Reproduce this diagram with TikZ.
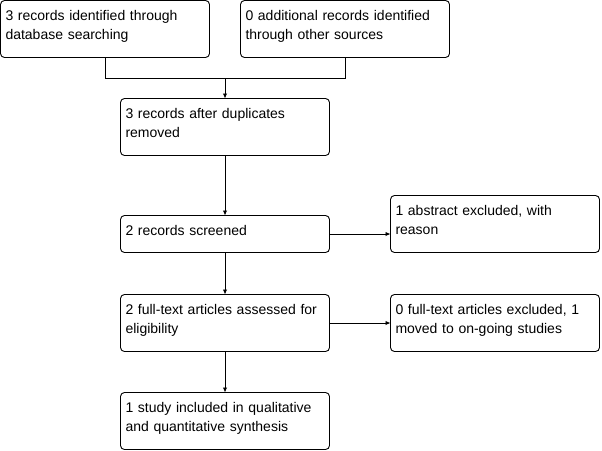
\documentclass[tikz,border=0pt]{standalone}
\usepackage{fontspec}
\setmainfont{Liberation Sans}
\usetikzlibrary{arrows.meta, positioning, calc}

\begin{document}
\begin{tikzpicture}[
  >={Latex[length=5pt,width=4.5pt]},
  box/.style={
    draw=black,
    line width=0.9pt,
    outer sep=0pt,
    rounded corners=4pt,
    align=left,
    text width=199pt,
    inner xsep=5pt,
    inner ysep=0pt,
    text height=20pt,
    text depth=37pt,
    font=\fontsize{14}{18.5}\selectfont
  },
  short/.style={text depth=17pt},
  link/.style={->, line width=0.9pt},
  node distance=41pt and 61pt
]
\useasboundingbox (0,0) rectangle (602pt,-450pt);

% Identification
\node[box, anchor=north west] (ident) at (0.5pt,-0.5pt)
  {3 records identified through\\database searching};
\node[box, right=31pt of ident] (other)
  {0 additional records identified\\through other sources};
\coordinate[below=21pt of $(ident.south)!0.5!(other.south)$] (join);

% Tri
\node[box, below=20pt of join] (dedup)
  {3 records after duplicates\\removed};
\node[box, short, below=60pt of dedup] (screen)
  {2 records screened};
\node[box, anchor=south west] (abstract) at ([xshift=61pt]screen.south east)
  {1 abstract excluded, with\\reason};

% Eligibilite
\node[box, below=42pt of screen] (fulltext)
  {2 full-text articles assessed for\\eligibility};
\node[box, right=of fulltext] (excluded)
  {0 full-text articles excluded, 1\\moved to on-going studies};

% Inclusion
\node[box, below=of fulltext] (included)
  {1 study included in qualitative\\and quantitative synthesis};

% Connexions
\draw[line width=0.9pt] (ident.south) |- (join) -| (other.south);
\draw[link] (join) -- (dedup);
\draw[link] (dedup) -- (screen);
\draw[link] (screen.east) -- (screen.east -| abstract.west);
\draw[link] (screen) -- (fulltext);
\draw[link] (fulltext) -- (excluded);
\draw[link] (fulltext) -- (included);

\end{tikzpicture}
\end{document}
